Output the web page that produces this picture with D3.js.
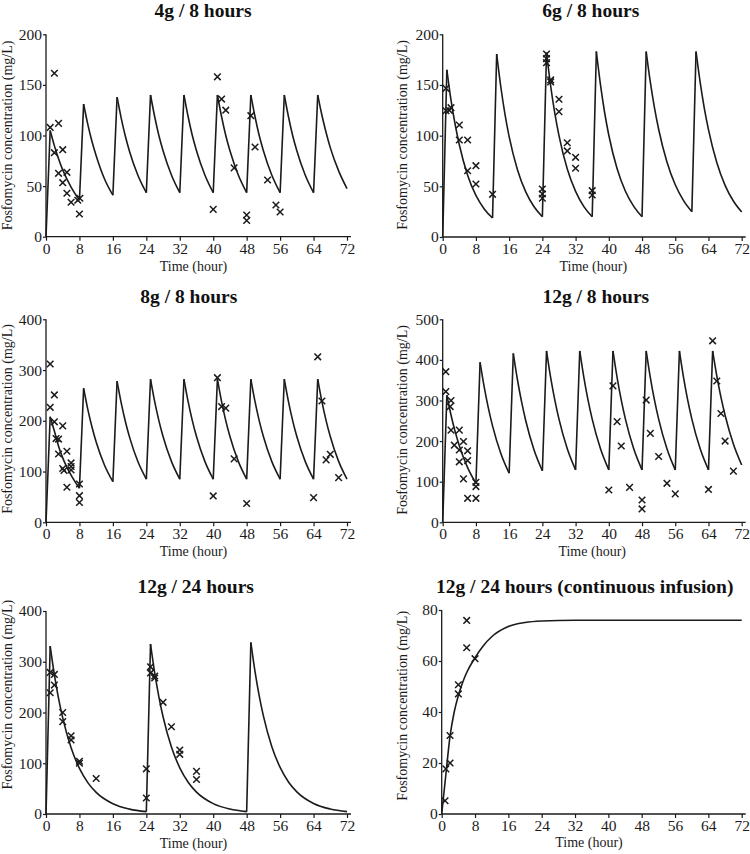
<!DOCTYPE html>
<html><head><meta charset="utf-8">
<script src="https://cdn.jsdelivr.net/npm/d3@7"></script>
<style>
body{margin:0;background:#fff;}
svg{display:block;font-family:"Liberation Serif","Times New Roman",serif;}
</style></head><body>
<svg id="c" width="750" height="854"></svg>
<script>
// ---------------- DATA ----------------
const titles = ["4g / 8 hours","6g / 8 hours","8g / 8 hours","12g / 8 hours","12g / 24 hours","12g / 24 hours (continuous infusion)"];
const xLabel = "Time (hour)";
const yLabel = "Fosfomycin concentration (mg/L)";
const xTicks = [0,8,16,24,32,40,48,56,64,72];
const yTicks200 = [0,50,100,150,200];
const yTicks400 = [0,100,200,300,400];
const yTicks500 = [0,100,200,300,400,500];
const yTicks80 = [0,20,40,60,80];

// simulated concentration curves [time, mg/L]
const curve4g8h = [
 [0,0],[1,105],[2,90],[3,77],[4,66],[6,49],[8,36],
 [9,131],[10,111],[11,94],[12,80],[14,57],[16,41],
 [17,138],[18,117],[19,99],[20,84],[22,60.5],[24,43.5],
 [25,140],[26,118.5],[27,100],[28,85],[30,61],[32,43.5],
 [33,140],[34,118.5],[35,100],[36,85],[38,61],[40,43.5],
 [41,140],[42,118.5],[43,100],[44,85],[46,61],[48,43.5],
 [49,140],[50,118.5],[51,100],[52,85],[54,61],[56,43.5],
 [57,140],[58,118.5],[59,100],[60,85],[62,61],[64,43.5],
 [65,140],[66,120],[67,103],[68,88],[70,65],[72,47.5]
];
const curve6g8h = [
 [0,0],[1,165],[2,135],[3,111],[4,91],[6,61],[8,41],[10,27.7],[12,18.7],
 [13,180.5],[14,148],[15,121],[16,99],[18,66.4],[20,44.5],[22,29.8],[24,20],
 [25,182],[26,149],[27,122],[28,100],[30,67],[32,45],[34,30],[36,20],
 [37,183],[38,150],[39,122.6],[40,100.4],[42,67.3],[44,45.1],[46,30.2],[48,20],
 [49,183],[50,152.7],[51,127.4],[52,106.3],[54,74],[56,51.5],[58,35.9],[60,25],
 [61,183],[62,152.5],[63,127],[64,106],[66,73.5],[68,51],[70,35.5],[72,24.6]
];
const curve8g8h = [
 [0,0],[1,208],[2,180],[3,150],[4,127],[6,93],[8,67],
 [9,264],[10,222.6],[11,187.7],[12,158.2],[14,112.5],[16,80],
 [17,278],[18,234.8],[19,198.2],[20,167.3],[22,119.2],[24,85],
 [25,282],[26,237.7],[27,200.4],[28,168.9],[30,120],[32,85],
 [33,282],[34,237.7],[35,200.4],[36,168.9],[38,120],[40,85],
 [41,282],[42,237.7],[43,200.4],[44,168.9],[46,120],[48,85],
 [49,282],[50,237.7],[51,200.4],[52,168.9],[54,120],[56,85],
 [57,282],[58,237.7],[59,200.4],[60,168.9],[62,120],[64,85],
 [65,282],[66,237.7],[67,200.4],[68,168.9],[70,120],[72,85]
];
const curve12g8h = [
 [0,0],[1,313],[2,264.4],[3,223.3],[4,188.6],[6,134.6],[8,96],
 [9,394],[10,332.9],[11,281.2],[12,237.6],[14,169.6],[16,121],
 [17,416],[18,351.1],[19,296.4],[20,250.2],[22,178.3],[24,127],
 [25,422],[26,356.3],[27,300.8],[28,254],[30,181],[32,129],
 [33,422],[34,356.3],[35,300.8],[36,254],[38,181],[40,129],
 [41,422],[42,356.3],[43,300.8],[44,254],[46,181],[48,129],
 [49,422],[50,356.3],[51,300.8],[52,254],[54,181],[56,129],
 [57,422],[58,356.3],[59,300.8],[60,254],[62,181],[64,129],
 [65,422],[66,360.8],[67,308.5],[68,263.8],[70,192.8],[72,141]
];
const curve12g24h = [
 [0,0],[1,331],[2,274.8],[3,228],[4,189.3],[6,130.4],[8,89.8],[10,61.9],[12,42.6],[16,20.2],[20,9.6],[24,4.6],
 [25,335],[26,278],[27,230.8],[28,191.6],[30,132],[32,91],[34,62.7],[36,43.2],[40,20.5],[44,9.7],[48,4.6],
 [49,338],[50,280.5],[51,232.8],[52,193.3],[54,133.2],[56,91.8],[58,63.2],[60,43.6],[64,20.7],[68,9.8],[72,4.6]
];
const curve12gCI = [
 [0,0],[1,15.5],[2,30.5],[3,40],[4,46.5],[5,51.5],[6,55.5],[8,61.3],[10,66],[12,69.5],[16,73.5],[20,75.1],[24,75.7],[32,76],[72,76]
];

// observed concentrations [time, mg/L]
const obs4g8h = [[1,108],[2,161.5],[3,112],[2,83],[4,86],[3,62.6],[5,63.6],[4,53.4],[5,42.9],[6,34],[7.6,36],[8.1,38],[8,22.4],
 [40,27],[41,158],[42,136],[43,125],[45,68],[48,21.4],[48,16],[49,119.6],[50,88.6],[53,56],[55,31.3],[56,24.4]];
const obs6g8h = [[0.8,146.7],[0.8,124.6],[2,127.6],[1.6,125],[4,110.5],[4,95.7],[6,95.7],[6,65.4],[8,70.4],[8,52.3],[12,42.1],
 [24,47.4],[24,42.4],[24,38.2],[25,180.6],[25,176],[25,172],[26,155],[26,153],[28,135.9],[28,123.7],[30,93],[30,84.9],[32,78.6],[32,67.8],[36,45.7],[36,41.4]];
const obs8g8h = [[1,312],[1,226.6],[2,251],[2,198],[4,190],[2.4,165],[3,164],[3,134.6],[5,140],[4,106],[4.3,102],[6,117],[6,110],[6,103],[5,69],[8,75.5],[8,52.5],[8,39],
 [40,52],[41,285],[42,228],[43,225],[45,125],[48,37],[64,48.6],[65,326],[66,239],[67,123],[68,134],[70,88]];
const obs12g8h = [[0.75,371],[0.75,322],[2,300],[1.8,285],[2,227],[4,227],[2.8,190],[5,199],[4,178],[6,176],[4,149],[6,152],[5,107],[8,98.5],[8,88],[6,59],[8,59],
 [40,79.6],[41,336],[42,248],[43,188],[45,86],[48,55],[48,33],[49,301],[50,219],[52,162],[54,96],[56,70],[64,81],[65,447],[66,348],[67,268],[68,200],[70,126]];
const obs12g24h = [[1,279],[1,239],[2,275],[2,254],[4,200],[4,182],[6,154],[6,146],[8,104],[8,100],[12,70],
 [24,89],[24,31.5],[25,290],[25,278],[26,272],[26,268],[28,220],[30,172],[32,126],[32,117.6],[36,84],[36,68]];
const obs12gCI = [[0.8,5.2],[1,17.7],[2,20],[2,30.8],[4,50.7],[4,47.1],[6,75.9],[6,65.2],[8,60.9]];

// ---------------- LAYOUT ----------------
const panels = [
 {title:titles[0], curve:curve4g8h, obs:obs4g8h, yTicks:yTicks200, x0:46, x1:347, y0:236.7, y1:34.3, tx:203, ty:16.7, lx:12, ly:135.5, bx:193.5, by:270.7},
 {title:titles[1], curve:curve6g8h, obs:obs6g8h, yTicks:yTicks200, x0:442.7, x1:741.7, y0:237, y1:34.3, tx:590.8, ty:16.7, lx:407, ly:135, bx:593.3, by:270.7},
 {title:titles[2], curve:curve8g8h, obs:obs8g8h, yTicks:yTicks400, x0:46, x1:347, y0:522.3, y1:319.3, tx:188.8, ty:303.3, lx:12, ly:419, bx:193.5, by:555.7},
 {title:titles[3], curve:curve12g8h, obs:obs12g8h, yTicks:yTicks500, x0:442.7, x1:741.7, y0:522.3, y1:319.3, tx:595.8, ty:303.3, lx:407, ly:420, bx:592.2, by:555.7},
 {title:titles[4], curve:curve12g24h, obs:obs12g24h, yTicks:yTicks400, x0:46, x1:347, y0:814, y1:611, tx:195.7, ty:592.7, lx:12, ly:694.7, bx:193.5, by:848.3},
 {title:titles[5], curve:curve12gCI, obs:obs12gCI, yTicks:yTicks80, x0:441.7, x1:741.7, y0:814, y1:610, tx:584.7, ty:592.7, lx:407, ly:705.8, bx:589, by:846.7}
];

const ink = "#1b1b1b";
const svg = d3.select("#c");

// split series into monotonic runs so that peaks/troughs stay sharp
function monotoneRuns(pts){
  const runs=[]; let cur=[pts[0]]; let dir=0;
  for(let i=1;i<pts.length;i++){
    const d=Math.sign(pts[i][1]-pts[i-1][1]);
    if(dir!==0 && d!==0 && d!==dir){ runs.push(cur); cur=[pts[i-1]]; dir=d; }
    else if(d!==0) dir=d;
    cur.push(pts[i]);
  }
  runs.push(cur);
  return runs;
}

panels.forEach(p=>{
  const yMax = p.yTicks[p.yTicks.length-1];
  const x = d3.scaleLinear().domain([0,72]).range([p.x0,p.x1]);
  const y = d3.scaleLinear().domain([0,yMax]).range([p.y0,p.y1]);
  const g = svg.append("g");

  // axes
  const ax = g.append("g").attr("transform",`translate(0,${p.y0})`)
    .call(d3.axisBottom(x).tickValues(xTicks).tickSize(4).tickPadding(2).tickSizeOuter(0));
  const ay = g.append("g").attr("transform",`translate(${p.x0},0)`)
    .call(d3.axisLeft(y).tickValues(p.yTicks).tickSize(3).tickPadding(1).tickSizeOuter(0));
  [ax,ay].forEach(a=>{
    a.select(".domain").remove();
    a.selectAll("line").attr("stroke",ink).attr("stroke-width",1.2);
    a.selectAll("text").attr("fill",ink).style("font-size","15.5px").style("font-family","'Liberation Serif',serif");
  });
  g.append("line").attr("x1",p.x0).attr("x2",p.x1+4).attr("y1",p.y0).attr("y2",p.y0).attr("stroke",ink).attr("stroke-width",1.3);
  g.append("line").attr("x1",p.x0).attr("x2",p.x0).attr("y1",p.y0).attr("y2",p.y1).attr("stroke",ink).attr("stroke-width",1.3);

  // title & labels
  g.append("text").attr("x",p.tx).attr("y",p.ty).attr("text-anchor","middle")
    .style("font-size","19.5px").style("font-weight","bold").attr("fill","#111").text(p.title);
  g.append("text").attr("x",p.bx).attr("y",p.by).attr("text-anchor","middle")
    .style("font-size","14px").attr("fill",ink).text(xLabel);
  g.append("text").attr("transform",`translate(${p.lx},${p.ly}) rotate(-90)`).attr("text-anchor","middle")
    .style("font-size","14px").attr("fill",ink).text(yLabel);

  // curve
  const line = d3.line().x(d=>x(d[0])).y(d=>y(d[1])).curve(d3.curveMonotoneX);
  g.append("g").selectAll("path").data(monotoneRuns(p.curve)).join("path")
    .attr("d",line).attr("fill","none").attr("stroke",ink).attr("stroke-width",1.6).attr("stroke-linejoin","round");

  // observations (x markers)
  const s = 3.3;
  g.append("g").selectAll("path").data(p.obs).join("path")
    .attr("d",d=>{const cx=x(d[0]), cy=y(d[1]); return `M${cx-s},${cy-s}L${cx+s},${cy+s}M${cx-s},${cy+s}L${cx+s},${cy-s}`;})
    .attr("stroke",ink).attr("stroke-width",1.5).attr("fill","none");
});
</script>
</body></html>
